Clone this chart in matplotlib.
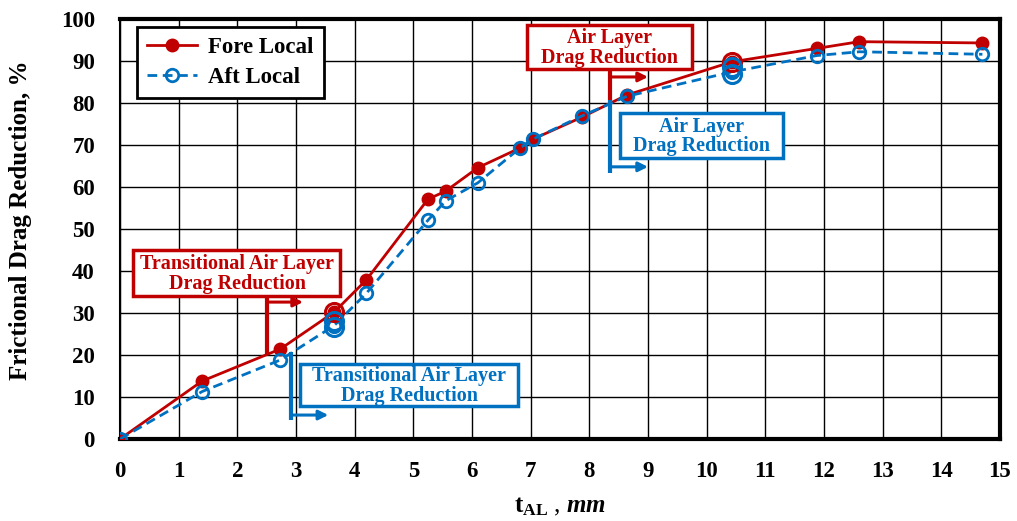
import matplotlib
matplotlib.use("Agg")
import matplotlib.pyplot as plt
from matplotlib.patches import Rectangle

plt.rcParams['font.family'] = ['Liberation Serif', 'DejaVu Serif']
plt.rcParams['font.weight'] = 'bold'
plt.rcParams['mathtext.fontset'] = 'custom'
plt.rcParams['mathtext.rm'] = 'Liberation Serif:bold'
plt.rcParams['mathtext.it'] = 'Liberation Serif:italic:bold'
plt.rcParams['mathtext.bf'] = 'Liberation Serif:bold'

# Air layer thickness, mm
t_al = [0, 1.4, 2.73, 3.65, 4.2, 5.25, 5.55, 6.1, 6.82, 7.04, 7.87, 8.64, 10.43, 11.88, 12.6, 14.7]
fore_local = [0, 13.8, 21.4, 30.2, 37.9, 57.1, 59.0, 64.6, 69.3, 71.4, 76.6, 81.9, 89.8, 93.0, 94.6, 94.3]
aft_local = [0, 11.3, 18.8, 27.0, 34.7, 52.1, 56.7, 61.0, 69.3, 71.4, 76.9, 81.6, 87.4, 91.3, 92.2, 91.6]

# Transition points highlighted with large rings
fore_ring_x = [3.65, 10.43]
fore_ring_y = [30.2, 89.8]
aft_ring_x = [3.65, 3.65, 10.43, 10.43]
aft_ring_y = [28.0, 26.6, 88.6, 87.0]

x_ticks = list(range(0, 16))
y_ticks = list(range(0, 101, 10))

RED = '#C00000'
BLUE = '#0070C0'

fig = plt.figure(figsize=(10.17, 5.21), dpi=100)
ax = fig.add_axes([120 / 1017, 1 - 439 / 521, 880 / 1017, 420 / 521])

ax.plot(t_al, fore_local, color=RED, lw=2, marker='o', ms=9, mfc=RED, mec=RED,
        label='Fore Local', zorder=4)
ax.plot(t_al, aft_local, color=BLUE, lw=2, ls=(0, (3.5, 2)), marker='o', ms=9,
        mfc='none', mec=BLUE, mew=2, label='Aft Local', zorder=5)
ax.plot(fore_ring_x, fore_ring_y, ls='none', marker='o', ms=13, mfc='none',
        mec=RED, mew=2.2, zorder=6)
ax.plot(aft_ring_x, aft_ring_y, ls='none', marker='o', ms=13, mfc='none',
        mec=BLUE, mew=2.2, zorder=6)

ax.set_xlim(0, 15)
ax.set_ylim(0, 100)
ax.set_xticks(x_ticks)
ax.set_yticks(y_ticks)
ax.tick_params(axis='both', length=0, labelsize=16.5)
ax.tick_params(axis='y', pad=18)
ax.tick_params(axis='x', pad=16)
for lab in ax.get_xticklabels() + ax.get_yticklabels():
    lab.set_fontweight('bold')
ax.grid(True, color='black', lw=1)
ax.set_axisbelow(True)
for sp in ax.spines.values():
    sp.set_linewidth(3)
ax.spines['left'].set_linewidth(1.5)
for l in ax.get_xgridlines() + ax.get_ygridlines():
    l.set_zorder(0)

ax.set_xlabel(r'$\mathrm{t}_{\mathrm{AL}}$ , $mm$', fontsize=18, labelpad=10)
ax.set_ylabel('Frictional Drag Reduction, %', fontsize=18, fontweight='bold')
ax.yaxis.set_label_coords(-88 / 880, 0.52)

leg = ax.legend(loc='upper left', bbox_to_anchor=(17 / 880, (439 - 27) / 420), fontsize=16.5,
                frameon=True, fancybox=False, edgecolor='black', handlelength=2.2,
                borderpad=0.42, labelspacing=0.42, handletextpad=0.5, borderaxespad=0)
leg.get_frame().set_linewidth(2)
leg.get_frame().set_alpha(1)
for t in leg.get_texts():
    t.set_fontweight('bold')


def bracket(x0, y_top, y_bot, y_arrow, x_arrow, color):
    ax.plot([x0, x0], [y_bot, y_top], color=color, lw=3, zorder=7, solid_capstyle='butt')
    ax.annotate('', xy=(x_arrow, y_arrow), xytext=(x0, y_arrow),
                arrowprops=dict(arrowstyle='-|>', color=color, lw=2.2,
                                mutation_scale=14, shrinkA=0, shrinkB=0), zorder=7)


def label_box(x0, x1, y0, y1, tx, ty, text, color):
    ax.add_patch(Rectangle((x0, y0), x1 - x0, y1 - y0, fc='white', ec=color,
                           lw=2.5, zorder=8))
    ax.text(tx, ty, text, color=color, fontsize=14.5, fontweight='bold', ha='center',
            va='center', linespacing=0.95, zorder=9)


# transitional air layer region
label_box(0.22, 3.75, 34.0, 45.0, 2.0, 39.3, 'Transitional Air Layer\nDrag Reduction', RED)
bracket(2.5, 34.0, 20.0, 32.6, 3.12, RED)
label_box(3.07, 6.78, 7.9, 17.9, 4.93, 12.6, 'Transitional Air Layer\nDrag Reduction', BLUE)
bracket(2.92, 20.8, 4.5, 5.7, 3.55, BLUE)

# air layer region
label_box(6.94, 9.75, 88.1, 98.6, 8.35, 93.1, 'Air Layer\nDrag Reduction', RED)
bracket(8.35, 88.1, 80.7, 86.2, 9.0, RED)
label_box(8.52, 11.30, 66.9, 77.6, 9.92, 72.1, 'Air Layer\nDrag Reduction', BLUE)
bracket(8.35, 80.7, 63.3, 64.8, 9.0, BLUE)

fig.savefig('out.png', dpi=100)
